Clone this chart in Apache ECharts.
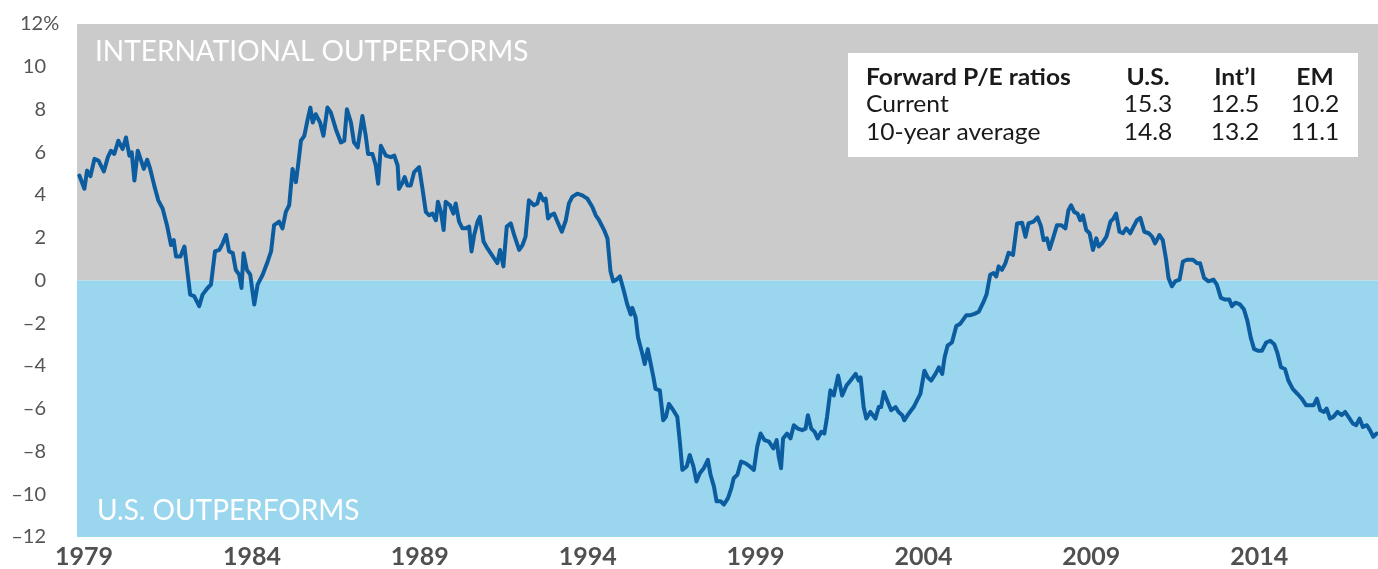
<!DOCTYPE html>
<html>
<head>
<meta charset="utf-8">
<script src="https://cdn.jsdelivr.net/npm/echarts@6/dist/echarts.min.js"></script>
<style>
html,body{margin:0;padding:0;background:#fff;}
#chart{width:1378px;height:569px;}
</style>
</head>
<body>
<div id="chart"></div>
<script>
// Decimal years of each reading
const years = [
1978.86,1979.01,1979.09,1979.19,1979.31,1979.43,1979.59,1979.71,1979.80,1979.90,
1980.02,1980.15,1980.25,1980.35,1980.42,1980.50,1980.60,1980.70,1980.78,1980.88,1980.97,
1981.09,1981.21,1981.34,1981.47,1981.59,1981.67,1981.74,1981.87,1981.99,
1982.09,1982.16,1982.28,1982.43,1982.53,1982.68,1982.78,1982.90,
1983.03,1983.13,1983.23,1983.32,1983.43,1983.52,1983.62,1983.69,1983.75,1983.85,1983.95,
1984.07,1984.17,1984.32,1984.47,1984.57,1984.66,1984.81,1984.91,
1985.01,1985.11,1985.21,1985.31,1985.38,1985.46,1985.56,1985.66,1985.74,1985.81,1985.90,
1986.03,1986.13,1986.25,1986.35,1986.50,1986.65,1986.75,1986.83,1986.95,
1987.04,1987.15,1987.22,1987.29,1987.39,1987.46,1987.59,1987.69,1987.76,1987.84,1987.99,
1988.14,1988.24,1988.34,1988.38,1988.49,1988.55,1988.63,1988.73,1988.83,1988.98,
1989.08,1989.18,1989.28,1989.38,1989.48,1989.54,1989.63,1989.71,1989.77,1989.90,
1990.00,1990.07,1990.17,1990.27,1990.37,1990.47,1990.54,1990.62,1990.72,1990.79,1990.90,
1991.01,1991.11,1991.21,1991.31,1991.39,1991.49,1991.59,1991.71,1991.81,1991.96,
1992.06,1992.15,1992.25,1992.40,1992.50,1992.58,1992.68,1992.75,1992.82,1992.90,
1993.00,1993.10,1993.23,1993.35,1993.44,1993.54,1993.69,1993.84,1993.99,
1994.14,1994.24,1994.34,1994.49,1994.59,1994.68,1994.76,1994.86,1994.96,
1995.08,1995.18,1995.28,1995.33,1995.43,1995.50,1995.63,1995.70,1995.79,1995.88,1995.96,
1996.02,1996.15,1996.25,1996.33,1996.42,1996.55,1996.67,1996.75,1996.82,1996.95,
1997.04,1997.15,1997.24,1997.34,1997.46,1997.58,1997.66,1997.76,1997.84,1997.96,
1998.06,1998.18,1998.28,1998.35,1998.46,1998.57,1998.70,1998.83,1998.95,
1999.05,1999.15,1999.27,1999.40,1999.53,1999.63,1999.69,1999.76,1999.82,1999.94,
2000.04,2000.14,2000.26,2000.39,2000.49,2000.56,2000.66,2000.76,2000.85,2000.96,
2001.05,2001.13,2001.23,2001.33,2001.46,2001.58,2001.71,2001.83,2001.98,
2002.07,2002.13,2002.22,2002.30,2002.42,2002.57,2002.67,2002.74,2002.82,2002.92,
2003.04,2003.17,2003.26,2003.37,2003.43,2003.56,2003.71,2003.81,2003.91,
2004.03,2004.13,2004.23,2004.36,2004.46,2004.56,2004.63,2004.72,2004.85,2004.98,
2005.10,2005.28,2005.40,2005.52,2005.65,2005.78,2005.88,2005.99,
2006.09,2006.17,2006.24,2006.34,2006.44,2006.54,2006.67,2006.79,2006.94,
2007.04,2007.13,2007.28,2007.40,2007.50,2007.58,2007.68,2007.76,2007.86,2007.98,
2008.10,2008.23,2008.32,2008.40,2008.49,2008.59,2008.67,2008.75,2008.85,2008.95,
2009.05,2009.15,2009.22,2009.32,2009.45,2009.57,2009.66,2009.74,2009.84,2009.94,
2010.04,2010.16,2010.26,2010.36,2010.46,2010.58,2010.71,2010.81,2010.90,
2011.03,2011.13,2011.23,2011.30,2011.40,2011.50,2011.63,2011.73,2011.85,
2012.03,2012.15,2012.24,2012.36,2012.49,2012.64,2012.74,2012.86,2012.99,
2013.11,2013.19,2013.29,2013.43,2013.55,2013.65,2013.75,2013.85,2013.98,
2014.08,2014.21,2014.33,2014.45,2014.54,2014.65,2014.77,2014.87,
2015.00,2015.14,2015.27,2015.40,2015.52,2015.62,2015.72,2015.82,2015.93,
2016.01,2016.11,2016.21,2016.33,2016.46,2016.56,2016.66,2016.79,2016.89,2016.99,
2017.09,2017.21,2017.30,2017.40,2017.50
];
// Relative performance difference (%), one per reading above
const spread = [
4.91,4.29,5.14,4.88,5.69,5.61,5.10,5.77,6.07,5.92,
6.54,6.15,6.69,5.84,6.00,4.68,6.07,5.61,5.22,5.65,5.22,
4.45,3.75,3.37,2.59,1.66,1.89,1.12,1.12,1.59,
0.27,-0.66,-0.73,-1.20,-0.66,-0.35,-0.19,1.36,
1.43,1.74,2.13,1.36,1.28,0.50,0.27,-0.35,1.28,0.50,0.27,
-1.12,-0.19,0.27,0.89,1.36,2.59,2.75,2.44,
3.21,3.52,5.22,4.60,5.45,6.54,6.77,7.54,8.09,7.39,7.78,
7.39,6.77,8.09,7.86,7.08,6.46,6.54,8.01,7.39,
6.46,6.23,6.93,7.70,6.77,5.92,5.92,5.38,4.53,6.30,5.84,
5.77,5.84,5.38,4.29,4.60,4.84,4.45,4.45,5.07,5.30,
4.29,3.21,3.05,3.13,2.82,3.68,3.21,2.36,3.68,3.52,
3.13,3.60,2.75,2.44,2.44,2.52,1.36,2.13,2.75,2.98,1.82,
1.51,1.28,1.04,0.81,1.43,0.66,2.52,2.67,2.13,1.43,
1.66,2.05,3.75,3.52,3.60,4.06,3.75,3.83,2.90,3.05,
3.13,2.75,2.28,2.82,3.60,3.91,4.06,3.98,3.83,
3.44,3.05,2.82,2.36,1.97,0.43,-0.04,0.04,0.19,
-0.50,-1.12,-1.59,-1.28,-1.74,-2.67,-3.44,-3.91,-3.21,-3.91,-4.53,
-5.07,-5.14,-6.54,-6.38,-5.77,-6.07,-6.38,-7.62,-8.86,-8.70,
-8.16,-8.70,-9.40,-9.02,-8.78,-8.39,-9.09,-9.63,-10.33,-10.33,
-10.48,-10.18,-9.71,-9.25,-9.09,-8.47,-8.55,-8.70,-8.86,
-7.78,-7.16,-7.47,-7.54,-7.86,-7.47,-8.24,-8.78,-7.39,-7.16,
-7.39,-6.77,-6.93,-7.00,-6.93,-6.30,-6.93,-7.08,-7.39,-7.08,
-7.16,-6.38,-5.14,-5.38,-4.45,-5.38,-4.91,-4.68,-4.37,
-4.68,-4.53,-5.92,-6.46,-6.15,-6.46,-5.92,-5.92,-5.22,-5.61,
-6.07,-5.92,-6.15,-6.30,-6.54,-6.23,-5.92,-5.61,-5.30,
-4.22,-4.53,-4.68,-4.37,-4.06,-4.37,-3.60,-3.05,-2.90,-2.13,
-2.02,-1.62,-1.62,-1.56,-1.46,-1.04,-0.66,0.27,
0.35,0.19,0.66,0.50,0.80,1.30,1.20,2.67,2.70,
2.05,2.67,2.75,2.95,2.55,1.89,1.97,1.47,1.97,2.59,
2.59,2.44,3.29,3.52,3.21,3.13,2.82,3.05,2.36,2.21,
1.43,1.97,1.59,1.74,2.05,2.75,2.90,3.13,2.28,2.21,
2.44,2.21,2.52,2.82,2.93,2.28,2.21,2.05,1.74,
2.13,1.89,0.97,0.12,-0.27,-0.04,0.04,0.89,0.97,
0.97,0.81,0.81,0.12,-0.04,0.04,-0.19,-0.81,-0.89,
-0.89,-1.20,-1.04,-1.12,-1.36,-1.89,-2.67,-3.21,-3.29,
-3.29,-2.90,-2.82,-2.98,-3.37,-4.06,-4.14,-4.68,
-5.07,-5.30,-5.53,-5.84,-5.84,-5.84,-5.53,-6.07,-6.15,
-5.99,-6.46,-6.38,-6.15,-6.30,-6.15,-6.38,-6.69,-6.77,-6.46,
-6.85,-6.77,-7.00,-7.31,-7.16
];
const xTickYears = [1979,1984,1989,1994,1999,2004,2009,2014];
const bandLabels = ['INTERNATIONAL OUTPERFORMS','U.S. OUTPERFORMS'];
const peHeader = ['Forward P/E ratios','U.S.','Int\u2019l','EM'];
const peRows = [
  ['Current','15.3','12.5','10.2'],
  ['10-year average','14.8','13.2','11.1']
];

const FONT = 'Lato, "Open Sans", sans-serif';
const seriesData = years.map((y, i) => [y, spread[i]]);

const colX = [866, 1148, 1235, 1315];
const rowY = [78, 105, 133];
const tableGraphics = [{
  type: 'rect', shape: {x: 848, y: 53, width: 510, height: 104},
  style: {fill: '#ffffff'}, z: 10
}];
[peHeader].concat(peRows).forEach((row, r) => {
  row.forEach((txt, c) => {
    tableGraphics.push({
      type: 'text', x: colX[c], y: rowY[r], z: 11, scaleX: 1.07,
      style: {
        text: txt, fill: '#1a1a1a',
        font: (r === 0 ? 'bold ' : '') + '23px ' + FONT,
        textAlign: c === 0 ? 'left' : 'center', textVerticalAlign: 'middle'
      }
    });
  });
});

const chart = echarts.init(document.getElementById('chart'), null, {renderer: 'canvas'});
chart.setOption({
  animation: false,
  backgroundColor: '#ffffff',
  grid: {left: 77, right: 0, top: 24, bottom: 28, containLabel: false},
  xAxis: {
    type: 'value', min: 1978.79, max: 2017.54,
    splitLine: {show: false}, axisLine: {show: false}, axisTick: {show: false},
    axisLabel: {
      customValues: xTickYears, formatter: v => String(v),
      color: '#505050', fontFamily: FONT, fontSize: 25, fontWeight: 'bold', margin: 7
    }
  },
  yAxis: {
    type: 'value', min: -12, max: 12, interval: 2,
    splitLine: {show: false}, axisLine: {show: false}, axisTick: {show: false},
    axisLabel: {
      align: 'left', margin: 62,
      formatter: v => {
        const s = v < 0 ? '\u2013' + Math.abs(v) : String(v);
        return v === 12 ? '{q|12%}' : '{v|' + s + '}';
      },
      rich: {
        v: {width: 31, align: 'right', color: '#555555', fontFamily: FONT, fontSize: 20},
        q: {padding: [0, 0, 0, 5], color: '#555555', fontFamily: FONT, fontSize: 20}
      }
    }
  },
  series: [{
    type: 'line', data: seriesData, showSymbol: false, symbol: 'none',
    lineStyle: {color: '#0b5d9f', width: 4, join: 'round', cap: 'round'},
    z: 5,
    markArea: {
      silent: true,
      data: [
        [{yAxis: 0, itemStyle: {color: '#cbcbcb'}}, {yAxis: 12}],
        [{yAxis: -12, itemStyle: {color: '#9bd6ef'}}, {yAxis: 0}]
      ]
    }
  }],
  graphic: [
    {type: 'text', x: 95, y: 52, z: 9, style: {text: bandLabels[0], fill: '#ffffff', font: '28px ' + FONT, textVerticalAlign: 'middle'}},
    {type: 'text', x: 97, y: 511, z: 9, style: {text: bandLabels[1], fill: '#ffffff', font: '28px ' + FONT, textVerticalAlign: 'middle'}}
  ].concat(tableGraphics)
});
</script>
</body>
</html>
